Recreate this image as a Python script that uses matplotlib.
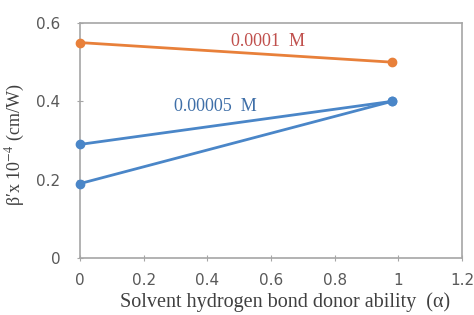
import matplotlib.pyplot as plt

plt.rcParams['mathtext.fontset'] = 'stix'

# data
alpha = [0.0, 0.98]
beta_1e4 = [0.55, 0.50]      # 0.0001 M
beta_5e5_a = [0.29, 0.40]    # 0.00005 M, upper line
beta_5e5_b = [0.19, 0.40]    # 0.00005 M, lower line

x_ticks = [0, 0.2, 0.4, 0.6, 0.8, 1, 1.2]
x_tick_labels = ['0', '0.2', '0.4', '0.6', '0.8', '1', '1.2']
y_ticks = [0, 0.2, 0.4, 0.6]
y_tick_labels = ['0', '0.2', '0.4', '0.6']

orange = '#e8803a'
blue = '#4a86c8'
grey = '#a6a6a6'

fig = plt.figure(figsize=(4.74, 3.15), dpi=100)
ax = fig.add_axes([80 / 474, 1 - 258 / 315, 382 / 474, 235 / 315])

for ys, c in [(beta_1e4, orange), (beta_5e5_a, blue), (beta_5e5_b, blue)]:
    ax.plot(alpha, ys, color=c, lw=2, marker='o', ms=6, clip_on=False, zorder=3)

ax.text(0.59, 0.554, '0.0001  M', color='#c0504d', fontsize=13,
        family='Liberation Serif', ha='center', va='center')
ax.text(0.425, 0.388, '0.00005  M', color='#3f6fa8', fontsize=13,
        family='Liberation Serif', ha='center', va='center')

ax.set_xlim(0, 1.2)
ax.set_ylim(0, 0.6)
ax.set_xticks(x_ticks, x_tick_labels)
ax.set_yticks(y_ticks, y_tick_labels)
ax.tick_params(colors=grey, labelcolor='#595959', labelsize=11,
               direction='inout', length=4, width=0.8)
ax.tick_params(axis='x', pad=9)
ax.tick_params(axis='y', pad=12)
for s in ax.spines.values():
    s.set_color(grey)
    s.set_linewidth(1.2)

ax.set_xlabel('Solvent hydrogen bond donor ability  (\u03b1)',
              family='Liberation Serif', fontsize=14.5, color='#404040')
ax.xaxis.set_label_coords((285 - 80) / 382, -34 / 235)
ax.set_ylabel('\u03b2\u2032x 10$^{-4}$ (cm/W)',
              family='Liberation Serif', fontsize=13, color='#404040')
ax.yaxis.set_label_coords(-53 / 382, 0.48)

fig.savefig('out.png', dpi=100)
